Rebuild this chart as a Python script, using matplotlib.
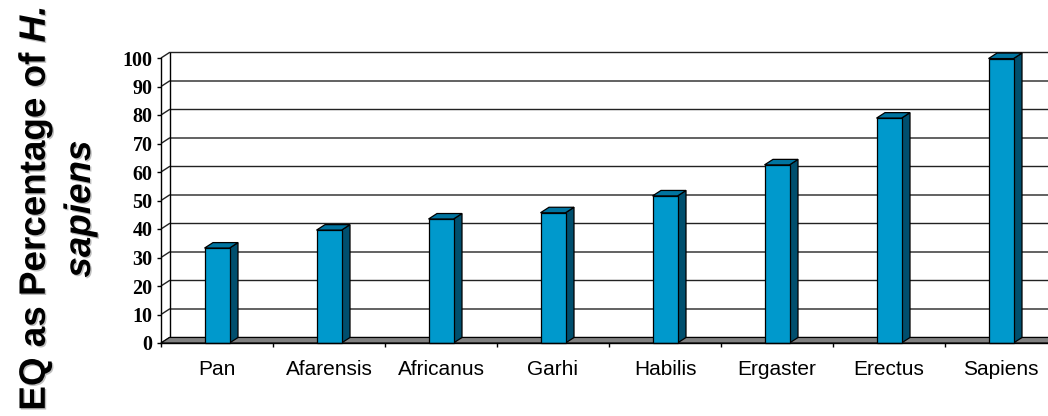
import matplotlib
matplotlib.use('Agg')
import matplotlib.pyplot as plt
from matplotlib.patches import Polygon, Rectangle
import matplotlib.patheffects as pe

categories = ['Pan', 'Afarensis', 'Africanus', 'Garhi', 'Habilis', 'Ergaster', 'Erectus', 'Sapiens']
values = [33.3, 39.6, 43.5, 45.7, 51.6, 62.5, 78.9, 99.8]
yticks = list(range(0, 101, 10))

plt.rcParams['mathtext.fontset'] = 'custom'
plt.rcParams['mathtext.rm'] = 'Liberation Sans:bold'
plt.rcParams['mathtext.bf'] = 'Liberation Sans:bold'
try:
    plt.rcParams['mathtext.bfit'] = 'Liberation Sans:italic:bold'
except KeyError:
    pass
plt.rcParams['mathtext.it'] = 'Liberation Sans:italic:bold'

W, H = 1048, 416
fig = plt.figure(figsize=(W / 100, H / 100), dpi=100)
fig.patch.set_facecolor('white')

n = len(categories)
ax = fig.add_axes([161 / W, (H - 343) / H, 896 / W, 285 / H])
ax.set_xlim(0, n)
ax.set_ylim(0, 100)
ax.patch.set_alpha(0)

pxx = n / 896.0
pxy = 100 / 285.0
dx = 8.5 * pxx
dy = 5.5 * pxy

# back wall gridlines with side-wall diagonals
for v in yticks:
    ax.plot([0, dx, n + dx], [v, v + dy, v + dy], color='#222222', lw=1.0,
            clip_on=False, zorder=1, solid_capstyle='butt')
ax.plot([dx, dx], [dy, 100 + dy], color='black', lw=1.0, clip_on=False, zorder=1)

# floor
ax.add_patch(Polygon([(0, 0), (n, 0), (n + dx, dy), (dx, dy)], closed=True,
                     fc='#808080', ec='black', lw=0.8, clip_on=False, zorder=2))

# bars
bw = 25 * pxx
front_c = '#0099CC'
side_c = '#004F6E'
top_c = '#0074A0'
for i, v in enumerate(values):
    c = i + 0.5
    x0, x1 = c - bw / 2, c + bw / 2
    ax.add_patch(Polygon([(x1, 0), (x1 + dx, dy), (x1 + dx, v + dy), (x1, v)],
                         closed=True, fc=side_c, ec='black', lw=0.9, clip_on=False, zorder=3))
    ax.add_patch(Polygon([(x0, v), (x1, v), (x1 + dx, v + dy), (x0 + dx, v + dy)],
                         closed=True, fc=top_c, ec='black', lw=0.9, clip_on=False, zorder=3))
    ax.add_patch(Rectangle((x0, 0), bw, v, fc=front_c, ec='black', lw=0.9,
                           clip_on=False, zorder=4))

# axes / ticks
for s in ['top', 'right']:
    ax.spines[s].set_visible(False)
for s in ['left', 'bottom']:
    ax.spines[s].set_color('black')
    ax.spines[s].set_linewidth(1.0)
    ax.spines[s].set_zorder(5)

ax.set_yticks(yticks)
ax.set_yticklabels([str(t) for t in yticks], fontfamily='Liberation Serif',
                   fontweight='bold', fontsize=14.5)
ax.tick_params(axis='y', length=3, width=1, direction='out', pad=3)

ax.set_xticks([i + 0.5 for i in range(n)])
ax.set_xticklabels(categories, fontfamily='Liberation Sans', fontsize=15)
ax.set_xticks(list(range(n + 1)), minor=True)
ax.tick_params(axis='x', which='major', length=0, pad=12)
ax.tick_params(axis='x', which='minor', length=3, width=1, direction='out')

# y label (two lines, bold, with shadow)
shadow = [pe.withSimplePatchShadow(offset=(1.0, -1.0), shadow_rgbFace='#808080', alpha=0.5)]
fig.text(45 / W, 1 - 209 / H, r'EQ as Percentage of $\mathbfit{H.}$', rotation=90,
         rotation_mode='anchor', ha='center', va='baseline', fontsize=26.5,
         fontweight='bold', family='Liberation Sans', path_effects=shadow)
fig.text(90 / W, 1 - 209 / H, 'sapiens', rotation=90, rotation_mode='anchor',
         ha='center', va='baseline', fontsize=26.5, fontweight='bold',
         fontstyle='italic', family='Liberation Sans', path_effects=shadow)

fig.savefig('out.png', dpi=100, facecolor='white')
